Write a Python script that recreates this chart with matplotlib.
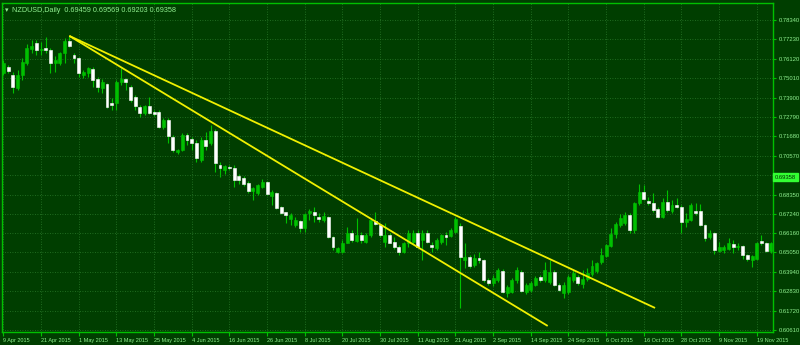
import numpy as np
import matplotlib
matplotlib.use('Agg')
import matplotlib.pyplot as plt

# ------------------------------------------------------------------
# data: NZDUSD daily bars, 9 Apr 2015 .. 23 Nov 2015
# ------------------------------------------------------------------
opens = [
    0.7531, 0.7565, 0.7519, 0.7445, 0.7519, 0.7588, 0.7668, 0.7702, 0.7662, 0.7674,
    0.7662, 0.7588, 0.7588, 0.7645, 0.7714, 0.7634, 0.7617, 0.7519, 0.7531, 0.7554,
    0.7497, 0.7445, 0.7468, 0.7359, 0.7359, 0.7479, 0.7497, 0.7451, 0.7394, 0.7336,
    0.7302, 0.7342, 0.7308, 0.7308, 0.7222, 0.7262, 0.7165, 0.7079, 0.7090, 0.7176,
    0.7153, 0.7131, 0.7033, 0.7148, 0.7131, 0.7199, 0.7005, 0.6976, 0.6993, 0.6988,
    0.6942, 0.6930, 0.6902, 0.6856, 0.6845, 0.6879, 0.6907, 0.6827, 0.6845, 0.6764,
    0.6736, 0.6696, 0.6661, 0.6684, 0.6644, 0.6730, 0.6736, 0.6707, 0.6690, 0.6707,
    0.6593, 0.6507, 0.6507, 0.6558, 0.6616, 0.6570, 0.6604, 0.6564, 0.6604, 0.6684,
    0.6661, 0.6564, 0.6604, 0.6564, 0.6536, 0.6507, 0.6558, 0.6564, 0.6616, 0.6576,
    0.6616, 0.6547, 0.6530, 0.6564, 0.6604, 0.6598, 0.6621, 0.6656, 0.6461, 0.6478,
    0.6433, 0.6473, 0.6461, 0.6347, 0.6330, 0.6347, 0.6398, 0.6273, 0.6278, 0.6347,
    0.6393, 0.6278, 0.6290, 0.6318, 0.6364, 0.6347, 0.6335, 0.6393, 0.6318, 0.6273,
    0.6278, 0.6347, 0.6364, 0.6324, 0.6353, 0.6381, 0.6398, 0.6450, 0.6484, 0.6541,
    0.6610, 0.6661, 0.6673, 0.6719, 0.6633, 0.6787, 0.6850, 0.6799, 0.6787, 0.6753,
    0.6707, 0.6793, 0.6742, 0.6776, 0.6764, 0.6679, 0.6690, 0.6742, 0.6742, 0.6661,
    0.6593, 0.6616, 0.6513, 0.6518, 0.6524, 0.6553, 0.6536, 0.6541, 0.6490, 0.6461,
    0.6467, 0.6570, 0.6558, 0.6513,
]
highs = [
    0.7605, 0.7577, 0.7537, 0.7548, 0.7617, 0.7697, 0.7720, 0.7720, 0.7708, 0.7737,
    0.7674, 0.7628, 0.7651, 0.7731, 0.7743, 0.7645, 0.7622, 0.7548, 0.7565, 0.7565,
    0.7508, 0.7497, 0.7474, 0.7388, 0.7491, 0.7559, 0.7502, 0.7462, 0.7405, 0.7348,
    0.7348, 0.7394, 0.7319, 0.7319, 0.7273, 0.7273, 0.7176, 0.7096, 0.7188, 0.7188,
    0.7165, 0.7148, 0.7165, 0.7193, 0.7233, 0.7211, 0.7022, 0.7005, 0.7005, 0.7005,
    0.6953, 0.6942, 0.6913, 0.6879, 0.6896, 0.6925, 0.6913, 0.6862, 0.6850, 0.6770,
    0.6736, 0.6730, 0.6707, 0.6690, 0.6730, 0.6753, 0.6764, 0.6730, 0.6736, 0.6713,
    0.6598, 0.6536, 0.6576, 0.6650, 0.6633, 0.6701, 0.6621, 0.6616, 0.6701, 0.6736,
    0.6667, 0.6673, 0.6616, 0.6593, 0.6547, 0.6564, 0.6633, 0.6633, 0.6633, 0.6633,
    0.6633, 0.6564, 0.6587, 0.6610, 0.6621, 0.6644, 0.6707, 0.6673, 0.6558, 0.6490,
    0.6496, 0.6507, 0.6467, 0.6358, 0.6376, 0.6416, 0.6410, 0.6318, 0.6358, 0.6421,
    0.6404, 0.6330, 0.6341, 0.6370, 0.6376, 0.6450, 0.6461, 0.6404, 0.6330, 0.6335,
    0.6376, 0.6404, 0.6376, 0.6404, 0.6416, 0.6461, 0.6450, 0.6530, 0.6553, 0.6644,
    0.6679, 0.6724, 0.6736, 0.6730, 0.6793, 0.6896, 0.6890, 0.6822, 0.6845, 0.6764,
    0.6816, 0.6862, 0.6804, 0.6816, 0.6776, 0.6730, 0.6787, 0.6787, 0.6782, 0.6667,
    0.6633, 0.6621, 0.6564, 0.6547, 0.6587, 0.6576, 0.6558, 0.6547, 0.6496, 0.6490,
    0.6564, 0.6604, 0.6564, 0.6564,
]
lows = [
    0.7519, 0.7531, 0.7416, 0.7434, 0.7491, 0.7577, 0.7645, 0.7634, 0.7634, 0.7645,
    0.7531, 0.7537, 0.7577, 0.7588, 0.7680, 0.7588, 0.7508, 0.7502, 0.7508, 0.7451,
    0.7422, 0.7416, 0.7331, 0.7319, 0.7319, 0.7462, 0.7434, 0.7365, 0.7319, 0.7279,
    0.7291, 0.7296, 0.7285, 0.7216, 0.7211, 0.7131, 0.7079, 0.7068, 0.7085, 0.7119,
    0.7090, 0.7022, 0.7022, 0.7090, 0.7119, 0.6965, 0.6936, 0.6953, 0.6976, 0.6879,
    0.6896, 0.6885, 0.6845, 0.6804, 0.6833, 0.6873, 0.6833, 0.6776, 0.6753, 0.6724,
    0.6673, 0.6661, 0.6650, 0.6621, 0.6621, 0.6690, 0.6679, 0.6679, 0.6679, 0.6587,
    0.6518, 0.6501, 0.6501, 0.6558, 0.6564, 0.6564, 0.6558, 0.6558, 0.6593, 0.6661,
    0.6593, 0.6536, 0.6558, 0.6524, 0.6490, 0.6501, 0.6536, 0.6553, 0.6536, 0.6461,
    0.6558, 0.6507, 0.6518, 0.6553, 0.6547, 0.6593, 0.6616, 0.6187, 0.6416, 0.6416,
    0.6421, 0.6444, 0.6335, 0.6318, 0.6313, 0.6335, 0.6273, 0.6250, 0.6273, 0.6330,
    0.6278, 0.6267, 0.6278, 0.6313, 0.6335, 0.6335, 0.6324, 0.6313, 0.6284, 0.6244,
    0.6267, 0.6335, 0.6318, 0.6301, 0.6341, 0.6370, 0.6387, 0.6438, 0.6478, 0.6536,
    0.6587, 0.6650, 0.6661, 0.6616, 0.6616, 0.6776, 0.6804, 0.6776, 0.6736, 0.6701,
    0.6701, 0.6736, 0.6730, 0.6759, 0.6616, 0.6650, 0.6684, 0.6719, 0.6656, 0.6570,
    0.6581, 0.6496, 0.6507, 0.6501, 0.6518, 0.6501, 0.6518, 0.6467, 0.6456, 0.6421,
    0.6461, 0.6547, 0.6507, 0.6501,
]
closes = [
    0.7588, 0.7542, 0.7451, 0.7519, 0.7594, 0.7674, 0.7685, 0.7662, 0.7668, 0.7662,
    0.7588, 0.7605, 0.7645, 0.7714, 0.7685, 0.7617, 0.7531, 0.7537, 0.7559, 0.7491,
    0.7451, 0.7479, 0.7336, 0.7348, 0.7479, 0.7497, 0.7479, 0.7376, 0.7342, 0.7302,
    0.7342, 0.7302, 0.7296, 0.7222, 0.7262, 0.7171, 0.7090, 0.7090, 0.7176, 0.7148,
    0.7131, 0.7045, 0.7148, 0.7113, 0.7199, 0.7016, 0.6988, 0.6999, 0.6988, 0.6919,
    0.6919, 0.6896, 0.6856, 0.6873, 0.6890, 0.6907, 0.6839, 0.6850, 0.6759, 0.6730,
    0.6719, 0.6719, 0.6690, 0.6644, 0.6724, 0.6742, 0.6719, 0.6696, 0.6713, 0.6593,
    0.6536, 0.6530, 0.6558, 0.6616, 0.6576, 0.6604, 0.6576, 0.6604, 0.6690, 0.6667,
    0.6604, 0.6604, 0.6558, 0.6536, 0.6507, 0.6558, 0.6616, 0.6616, 0.6536, 0.6616,
    0.6564, 0.6536, 0.6576, 0.6604, 0.6593, 0.6633, 0.6696, 0.6478, 0.6478, 0.6427,
    0.6473, 0.6461, 0.6347, 0.6330, 0.6358, 0.6404, 0.6278, 0.6307, 0.6347, 0.6404,
    0.6284, 0.6318, 0.6330, 0.6358, 0.6347, 0.6404, 0.6393, 0.6318, 0.6290, 0.6318,
    0.6364, 0.6387, 0.6330, 0.6353, 0.6387, 0.6427, 0.6444, 0.6490, 0.6547, 0.6610,
    0.6667, 0.6701, 0.6719, 0.6633, 0.6787, 0.6850, 0.6810, 0.6787, 0.6747, 0.6707,
    0.6793, 0.6747, 0.6776, 0.6764, 0.6679, 0.6696, 0.6776, 0.6730, 0.6661, 0.6587,
    0.6616, 0.6518, 0.6536, 0.6536, 0.6558, 0.6536, 0.6541, 0.6490, 0.6467, 0.6484,
    0.6558, 0.6558, 0.6513, 0.6558,
]

date_labels = ['9 Apr 2015', '21 Apr 2015', '1 May 2015', '13 May 2015', '25 May 2015',
               '4 Jun 2015', '16 Jun 2015', '26 Jun 2015', '8 Jul 2015', '20 Jul 2015',
               '30 Jul 2015', '11 Aug 2015', '21 Aug 2015', '2 Sep 2015', '14 Sep 2015',
               '24 Sep 2015', '6 Oct 2015', '16 Oct 2015', '28 Oct 2015', '9 Nov 2015',
               '19 Nov 2015']
date_step = 8

price_ticks = [0.78340, 0.77230, 0.76120, 0.75010, 0.73900, 0.72790, 0.71680, 0.70570,
               0.69460, 0.68350, 0.67240, 0.66160, 0.65050, 0.63940, 0.62830, 0.61720,
               0.60610]

# trend lines drawn from the April high (bar, price)
trend_lines = [
    [(14, 0.7743), (138.4, 0.6187)],
    [(14, 0.7743), (115.6, 0.6084)],
]

last_bar = (0.69459, 0.69569, 0.69203, 0.69358)

# ------------------------------------------------------------------
# colours (MT4 green scheme)
# ------------------------------------------------------------------
BG = '#003e00'
FRAME = '#00c000'
GRID = '#2a7a2a'
TXT = '#90f090'
BULL = '#00c000'
BEAR = '#ffffff'
TREND = '#f0f000'
FONT = 'Liberation Sans'

fig = plt.figure(figsize=(8, 3.45), dpi=100, facecolor=BG)
ax = fig.add_axes([2 / 800, 1 - 332 / 345, 771 / 800, 329 / 345])
ax.set_facecolor(BG)

o = np.array(opens)
h = np.array(highs)
l = np.array(lows)
c = np.array(closes)
x = np.arange(len(o))
up = c >= o

# wicks
ax.vlines(x, l, h, colors=BULL, linewidth=0.8, zorder=3)

# bodies
bottom = np.minimum(o, c)
height = np.maximum(np.abs(c - o), 0.00025)
ax.bar(x[up], height[up], bottom=bottom[up], width=0.62, color=BULL,
       edgecolor=BULL, linewidth=0.4, zorder=4)
ax.bar(x[~up], height[~up], bottom=bottom[~up], width=0.62, color=BEAR,
       edgecolor=BEAR, linewidth=0.4, zorder=4)

# trend lines
for (x0, y0), (x1, y1) in trend_lines:
    ax.plot([x0, x1], [y0, y1], color=TREND, linewidth=1.3, zorder=5,
            solid_capstyle='butt')

ax.set_xlim(-0.3, 163.45)
ax.set_ylim(0.60494, 0.79312)

# grid
for p in price_ticks:
    ax.axhline(p, color=GRID, linewidth=0.6, linestyle=(0, (1, 2)), zorder=1)
date_pos = [i * date_step for i in range(len(date_labels))]
for d in date_pos:
    ax.axvline(d, color=GRID, linewidth=0.6, linestyle=(0, (1, 2)), zorder=1)

# axes / ticks
for s in ax.spines.values():
    s.set_color(FRAME)
    s.set_linewidth(1.0)

ax.yaxis.tick_right()
ax.set_yticks(price_ticks)
ax.set_yticklabels(['%.5f' % p if abs(p - 0.6946) > 1e-6 else '' for p in price_ticks],
                   fontfamily=FONT)
ax.tick_params(axis='y', colors=FRAME, labelcolor=TXT, labelsize=4.2,
               length=2.5, width=0.8, pad=1.5, direction='out')

ax.set_xticks(date_pos)
ax.set_xticklabels(date_labels, ha='left', fontfamily=FONT)
ax.tick_params(axis='x', colors=FRAME, labelcolor=TXT, labelsize=4.0,
               length=3, width=0.8, pad=1, direction='out')

# current price label on the scale
ax.annotate('%.5f' % last_bar[3], xy=(1.0, last_bar[3]),
            xycoords=('axes fraction', 'data'), xytext=(1.5, 0),
            textcoords='offset points', va='center', ha='left',
            fontsize=4.2, color='#003000', fontfamily=FONT,
            bbox=dict(boxstyle='square,pad=0.3', fc='#33ff33', ec='#33ff33'))

# header
fig.text(5 / 800, 1 - 10 / 345, '\u25be', color=TXT, fontsize=5, va='center')
fig.text(12 / 800, 1 - 10 / 345,
         'NZDUSD,Daily  %.5f %.5f %.5f %.5f' % last_bar,
         color=TXT, fontsize=5.2, va='center', fontfamily=FONT)

fig.savefig('out.png', dpi=100, facecolor=BG)
